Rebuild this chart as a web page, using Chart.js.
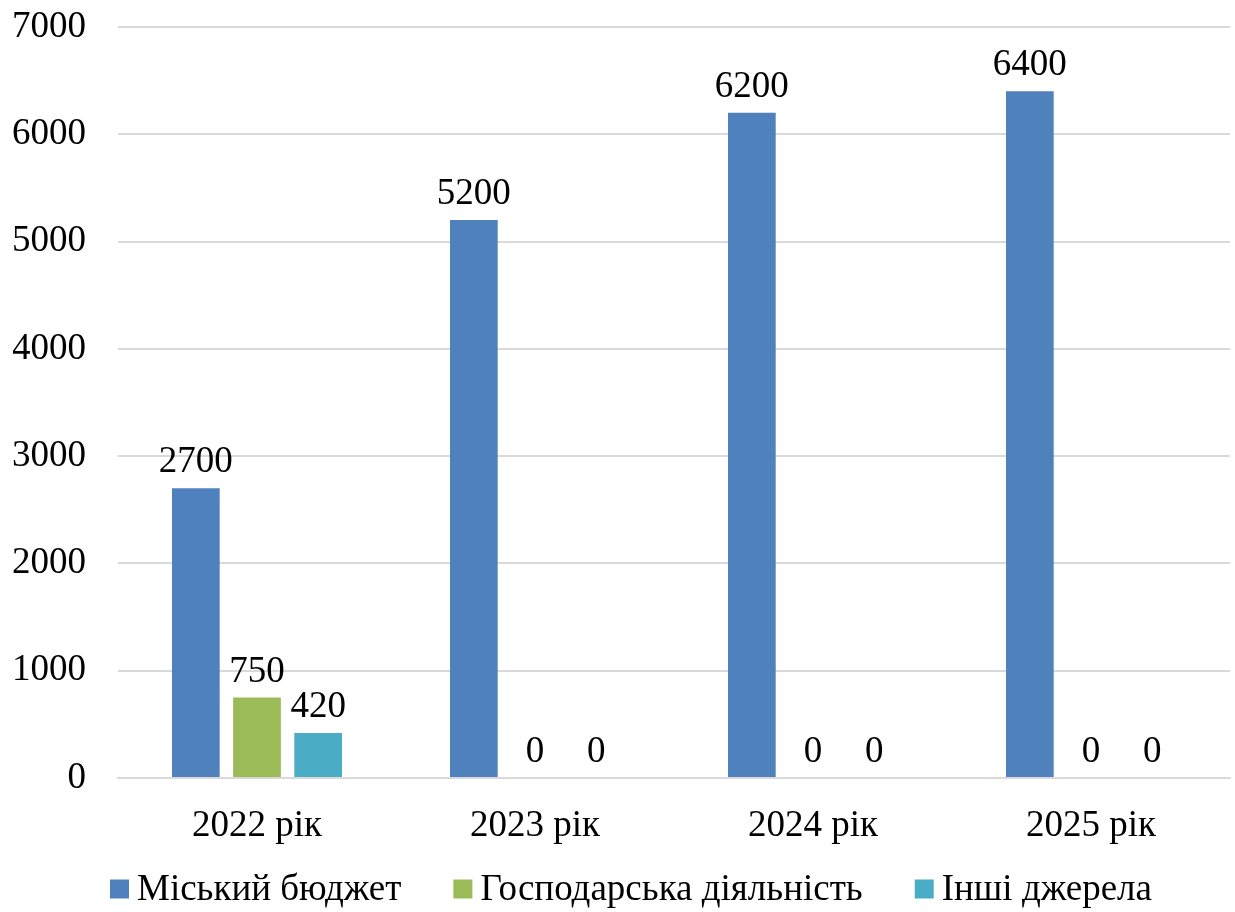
<!DOCTYPE html>
<html>
<head>
<meta charset="utf-8">
<script src="https://cdn.jsdelivr.net/npm/chart.js@4"></script>
<style>
html,body{margin:0;padding:0;background:#fff;}
#c{display:block;}
</style>
</head>
<body>
<canvas id="c" width="1235" height="912"></canvas>
<script>
const categories = ["2022 рік", "2023 рік", "2024 рік", "2025 рік"];
const seriesNames = ["Міський бюджет", "Господарська діяльність", "Інші джерела"];
const cityBudget = [2700, 5200, 6200, 6400];
const economicActivity = [750, 0, 0, 0];
const otherSources = [420, 0, 0, 0];
const yTicks = [0, 1000, 2000, 3000, 4000, 5000, 6000, 7000];

const FONT = "'Liberation Serif', 'Times New Roman', serif";
const FS = 37;

const valueLabels = {
  id: 'valueLabels',
  afterDatasetsDraw(chart) {
    const ctx = chart.ctx;
    ctx.save();
    ctx.font = FS + "px " + FONT;
    ctx.fillStyle = "#000";
    ctx.textAlign = "center";
    ctx.textBaseline = "alphabetic";
    chart.data.datasets.forEach((ds, i) => {
      const meta = chart.getDatasetMeta(i);
      meta.data.forEach((bar, j) => {
        ctx.fillText(String(ds.data[j]), bar.x, bar.y - 16);
      });
    });
    ctx.restore();
  }
};

const bottomLegend = {
  id: 'bottomLegend',
  afterDraw(chart) {
    const ctx = chart.ctx;
    ctx.save();
    ctx.font = FS + "px " + FONT;
    ctx.textBaseline = "middle";
    ctx.textAlign = "left";
    const box = 19, gapText = 8, gapItem = 52;
    const items = chart.data.datasets.map(ds => ({
      text: ds.label, color: ds.backgroundColor, w: ctx.measureText(ds.label).width
    }));
    const total = items.reduce((s, it) => s + box + gapText + it.w, 0) + gapItem * (items.length - 1);
    let x = 631 - total / 2;
    const cy = 889;
    items.forEach(it => {
      ctx.fillStyle = it.color;
      ctx.fillRect(x, cy - box / 2, box, box);
      ctx.fillStyle = "#000";
      ctx.fillText(it.text, x + box + gapText, cy + 1);
      x += box + gapText + it.w + gapItem;
    });
    ctx.restore();
  }
};

new Chart(document.getElementById('c'), {
  type: 'bar',
  data: {
    labels: categories,
    datasets: [
      { label: seriesNames[0], data: cityBudget, backgroundColor: '#4f81bd' },
      { label: seriesNames[1], data: economicActivity, backgroundColor: '#9bbb59' },
      { label: seriesNames[2], data: otherSources, backgroundColor: '#4bacc6' }
    ]
  },
  options: {
    responsive: false,
    animation: false,
    layout: { padding: { left: 13, right: 5, top: 27, bottom: 48 } },
    datasets: { bar: { categoryPercentage: 0.66, barPercentage: 0.78 } },
    plugins: {
      legend: { display: false },
      tooltip: { enabled: false }
    },
    scales: {
      x: {
        grid: { display: false, drawTicks: false },
        border: { color: '#d9d9d9', width: 2 },
        ticks: { font: { family: FONT, size: FS }, color: '#000', padding: 26 },
        afterFit(scale) { scale.height = 86; scale.paddingLeft = 0; scale.paddingRight = 0; }
      },
      y: {
        min: 0, max: 7000,
        afterBuildTicks(axis) { axis.ticks = yTicks.map(v => ({ value: v })); },
        grid: { color: '#d9d9d9', lineWidth: 2, drawTicks: false },
        border: { display: false },
        ticks: { font: { family: FONT, size: FS }, color: '#000', padding: 32,
                 callback: (v) => String(v) },
        afterFit(scale) { scale.width = 105; scale.paddingTop = 0; scale.paddingBottom = 0; }
      }
    }
  },
  plugins: [valueLabels, bottomLegend]
});
</script>
</body>
</html>
